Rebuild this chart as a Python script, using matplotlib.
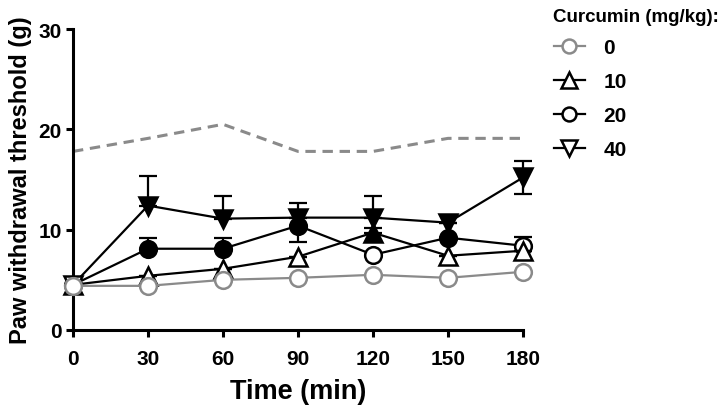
import matplotlib
matplotlib.use("Agg")
import matplotlib.pyplot as plt
from matplotlib.lines import Line2D
import numpy as np

plt.rcParams['font.family'] = ['Liberation Sans', 'DejaVu Sans']
plt.rcParams['font.weight'] = 'bold'

# ---- data ----
times = [0, 30, 60, 90, 120, 150, 180]
baseline = [17.8, 19.1, 20.5, 17.8, 17.8, 19.1, 19.1]

dose_labels = ["0", "10", "20", "40"]
s0 = [4.4, 4.4, 5.0, 5.2, 5.5, 5.2, 5.8]
s10 = [4.5, 5.4, 6.1, 7.3, 9.7, 7.4, 7.9]
s20 = [4.5, 8.1, 8.1, 10.4, 7.5, 9.2, 8.4]
s40 = [4.5, 12.4, 11.1, 11.2, 11.2, 10.7, 15.2]

# error bars (upper / lower)
s0_up = [0, 0, 0, 0, 0, 0, 0]
s0_lo = [0, 0, 0, 0, 0, 0, 0]
s10_up = [0, 0, 0, 0, 0.5, 0, 0]
s10_lo = [0, 0, 0, 0, 0, 0, 0]
s20_up = [0, 1.1, 1.1, 0, 0, 0, 0.9]
s20_lo = [0, 0, 0, 1.6, 0, 0, 0]
s40_up = [0, 2.9, 2.3, 1.5, 2.2, 0, 1.6]
s40_lo = [0, 0, 0, 0, 0, 0, 1.6]

# significance (filled marker) flags
sig0 = [0, 0, 0, 0, 0, 0, 0]
sig10 = [0, 0, 0, 0, 1, 0, 0]
sig20 = [0, 1, 1, 1, 0, 1, 0]
sig40 = [0, 1, 1, 1, 1, 1, 1]

legend_title = "Curcumin (mg/kg):"
xlabel = "Time (min)"
ylabel = "Paw withdrawal threshold (g)"
xticks = [0, 30, 60, 90, 120, 150, 180]
yticks = [0, 10, 20, 30]

# ---- figure ----
fig = plt.figure(figsize=(7.19, 4.14), dpi=100)
ax = fig.add_axes([73/719, 1-331/414, 450/719, 301/414])

grey = '#8a8a8a'
ax.plot(times, baseline, color=grey, lw=2.2, ls=(0, (3.4, 2.2)), zorder=1)

series = [
    (s20, s20_up, s20_lo, sig20, 'o', 'black', 12, 2),
    (s10, s10_up, s10_lo, sig10, '^', 'black', 13.5, 3),
    (s40, s40_up, s40_lo, sig40, 'v', 'black', 13.5, 4),
    (s0, s0_up, s0_lo, sig0, 'o', grey, 12, 5),
]

for vals, up, lo, sig, mk, col, ms, z in series:
    t = np.array(times, float)
    v = np.array(vals, float)
    sg = np.array(sig, bool)
    eb = ax.errorbar(t, v, yerr=[lo, up], fmt='none', ecolor=col, elinewidth=1.6,
                     capsize=6.5, capthick=1.6, zorder=z)
    for art in eb.lines[1] + eb.lines[2]:
        art.set_clip_on(False)
    ax.plot(t, v, color=col, lw=1.6, zorder=z, clip_on=False)
    vo = np.where(sg, np.nan, v)
    vf = np.where(sg, v, np.nan)
    ax.plot(t, vo, ls='none', marker=mk, ms=ms, mfc='white', mec=col, mew=1.8,
            zorder=z + 0.5, clip_on=False)
    ax.plot(t, vf, ls='none', marker=mk, ms=ms, mfc=col, mec=col, mew=1.8,
            zorder=z + 0.5, clip_on=False)

ax.set_xlim(0, 180)
ax.set_ylim(0, 30)
ax.set_xticks(xticks)
ax.set_yticks(yticks)
ax.tick_params(axis='both', labelsize=15, width=2.2, length=5, direction='out')
ax.tick_params(axis='x', pad=9)
ax.tick_params(axis='y', pad=3)
for lab in ax.get_xticklabels() + ax.get_yticklabels():
    lab.set_fontweight('bold')
ax.spines['top'].set_visible(False)
ax.spines['right'].set_visible(False)
ax.spines['left'].set_linewidth(2.2)
ax.spines['bottom'].set_linewidth(2.2)
ax.set_xlabel(xlabel, fontsize=19.5, fontweight='bold', labelpad=7)
ax.set_ylabel(ylabel, fontsize=17, fontweight='bold', labelpad=5)

# legend title as separate text
fig.text(553/719, 1 - 18/414, legend_title, fontsize=13.5, fontweight='bold',
         ha='left', va='center')

handles = [
    Line2D([], [], color=grey, lw=1.6, marker='o', ms=10, mfc='white', mec=grey, mew=1.8),
    Line2D([], [], color='black', lw=1.6, marker='^', ms=11, mfc='white', mec='black', mew=1.8),
    Line2D([], [], color='black', lw=1.6, marker='o', ms=10, mfc='white', mec='black', mew=1.8),
    Line2D([], [], color='black', lw=1.6, marker='v', ms=11, mfc='white', mec='black', mew=1.8),
]
leg = ax.legend(handles, dose_labels, loc='upper left',
                bbox_to_anchor=(541/719, 1 - 27/414), bbox_transform=fig.transFigure,
                frameon=False, borderpad=0.1, handlelength=1.5, handletextpad=0.9,
                labelspacing=0.72, fontsize=15)
for txt in leg.get_texts():
    txt.set_fontweight('bold')

fig.savefig("out.png", dpi=100)
